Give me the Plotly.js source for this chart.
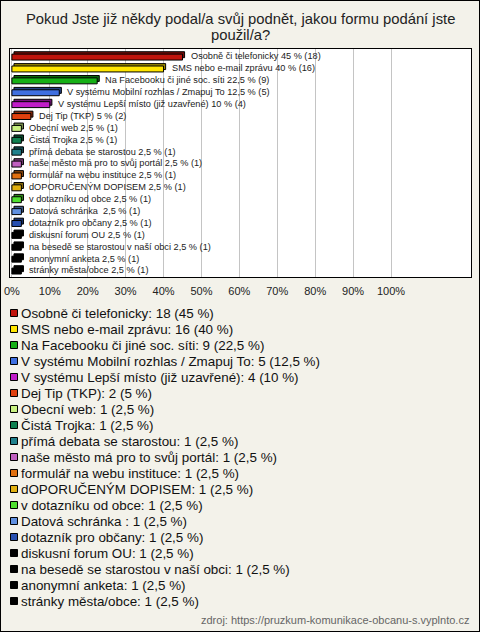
<!DOCTYPE html>
<html>
<head>
<meta charset="utf-8">
<script src="https://cdn.plot.ly/plotly-3.0.1.min.js"></script>
<style>
  html, body { margin: 0; padding: 0; background: #f3f2ea; }
  #wrap { position: relative; width: 480px; height: 632px; }
  #chart { position: absolute; left: 0; top: 0; width: 480px; height: 632px; }
  #frame { position: absolute; left: 0; top: 0; width: 480px; height: 632px; box-sizing: border-box; border: 1px solid #000; pointer-events: none; }
</style>
</head>
<body>
<div id="wrap"><div id="chart"></div><div id="frame"></div></div>
<script>
// ---- data ----
const categories = [
  "Osobně či telefonicky",
  "SMS nebo e-mail zprávu",
  "Na Facebooku či jiné soc. síti",
  "V systému Mobilní rozhlas / Zmapuj To",
  "V systému Lepší místo (již uzavřené)",
  "Dej Tip (TKP)",
  "Obecní web",
  "Čistá Trojka",
  "přímá debata se starostou",
  "naše město má pro to svůj portál",
  "formulář na webu instituce",
  "dOPORUČENÝM DOPISEM",
  "v dotazníku od obce",
  "Datová schránka ",
  "dotazník pro občany",
  "diskusní forum OU",
  "na besedě se starostou v naší obci",
  "anonymní anketa",
  "stránky města/obce"
];
const counts = [18, 16, 9, 5, 4, 2, 1, 1, 1, 1, 1, 1, 1, 1, 1, 1, 1, 1, 1];
const percents = [45, 40, 22.5, 12.5, 10, 5, 2.5, 2.5, 2.5, 2.5, 2.5, 2.5, 2.5, 2.5, 2.5, 2.5, 2.5, 2.5, 2.5];
const tickValues = [0, 10, 20, 30, 40, 50, 60, 70, 80, 90, 100];
const tickLabels = ["0%", "10%", "20%", "30%", "40%", "50%", "60%", "70%", "80%", "90%", "100%"];
const sourceText = "zdroj: https://pruzkum-komunikace-obcanu-s.vyplnto.cz";
const titleLines = ["Pokud Jste již někdy podal/a svůj podnět, jakou formu podání jste", "použil/a?"];

// ---- styles ----
const colors = ["#c0140c", "#ffe600", "#16b016", "#3f6fe0", "#c01cc8", "#e0400e", "#c8f080",
  "#108050", "#20808c", "#c060c0", "#e07010", "#e0b010", "#50e030", "#6090e0", "#2850b0",
  "#000000", "#000000", "#000000", "#000000"];
function darken(hex, f) {
  const n = parseInt(hex.slice(1), 16);
  const r = Math.round(((n >> 16) & 255) * f), g = Math.round(((n >> 8) & 255) * f), b = Math.round((n & 255) * f);
  return "rgb(" + r + "," + g + "," + b + ")";
}
const fmt = v => String(v).replace(".", ",");

const W = 480, H = 632, L = 10, R = 9, T = 49, B = 355;
const PW = W - L - R, PH = H - T - B;
const px = x => (x - L) / PW;
const py = y => 1 - (y - T) / PH;

const idx = categories.map((_, i) => i);
const FONT = "Liberation Sans, Arial, sans-serif";

const back = {
  type: "bar", orientation: "h", y: idx, x: percents, base: 0.55,
  width: 0.5, offset: -0.4,
  marker: { color: colors.map(c => darken(c, 0.6)), line: { color: "#000", width: 1 } },
  showlegend: false, hoverinfo: "skip"
};
const front = {
  type: "bar", orientation: "h", y: idx, x: percents, base: 0,
  width: 0.5, offset: -0.2,
  marker: { color: colors, line: { color: "#000", width: 1 } },
  showlegend: false,
  hovertext: categories, hoverinfo: "text+x"
};

const annotations = [];
const shapes = [];
titleLines.forEach((t, i) => {
  annotations.push({
    x: 0.5, y: py(19 + i * 16), xref: "paper", yref: "paper", xanchor: "center", yanchor: "middle",
    showarrow: false, text: t,
    font: { family: FONT, size: 14.8, color: "#222" }
  });
});
categories.forEach((c, i) => {
  annotations.push({
    x: percents[i], y: i, xref: "x", yref: "y", xanchor: "left", yanchor: "middle",
    xshift: 6, showarrow: false,
    text: c + " " + fmt(percents[i]) + " % (" + counts[i] + ")",
    font: { family: FONT, size: 9.2, color: "#222" }
  });
  const ly = 313 + i * 16;
  shapes.push({
    type: "rect", xref: "paper", yref: "paper",
    x0: px(10.5), x1: px(17.5), y0: py(ly - 3.5), y1: py(ly + 3.5),
    fillcolor: colors[i], line: { color: "#000", width: 1 }
  });
  annotations.push({
    x: px(19), y: py(ly), xref: "paper", yref: "paper", xanchor: "left", yanchor: "middle",
    showarrow: false,
    text: c + ": " + counts[i] + " (" + fmt(percents[i]) + " %)",
    font: { family: FONT, size: 13.4, color: "#111" }
  });
});
annotations.push({
  x: px(471), y: py(620), xref: "paper", yref: "paper", xanchor: "right", yanchor: "middle",
  showarrow: false, text: sourceText,
  font: { family: FONT, size: 11, color: "#666" }
});

const layout = {
  width: W, height: H,
  margin: { l: L, r: R, t: T, b: B, pad: 0 },
  paper_bgcolor: "#f3f2ea", plot_bgcolor: "#ffffff",
  barmode: "overlay",
  xaxis: {
    range: [-0.5, 121.1], tickvals: tickValues, ticktext: tickLabels,
    showgrid: true, gridcolor: "#c4c4c4", gridwidth: 1, zeroline: false,
    showline: true, mirror: true, linecolor: "#000", linewidth: 1,
    ticks: "", ticklabelstandoff: 4,
    tickfont: { family: FONT, size: 11, color: "#222" }, fixedrange: true
  },
  yaxis: {
    range: [18.55, -0.63], showticklabels: false, showgrid: false, zeroline: false,
    showline: true, mirror: true, linecolor: "#000", linewidth: 1, ticks: "", fixedrange: true
  },
  annotations: annotations,
  shapes: shapes,
  showlegend: false
};

Plotly.newPlot("chart", [back, front], layout, { displayModeBar: false, staticPlot: true });
</script>
</body>
</html>
